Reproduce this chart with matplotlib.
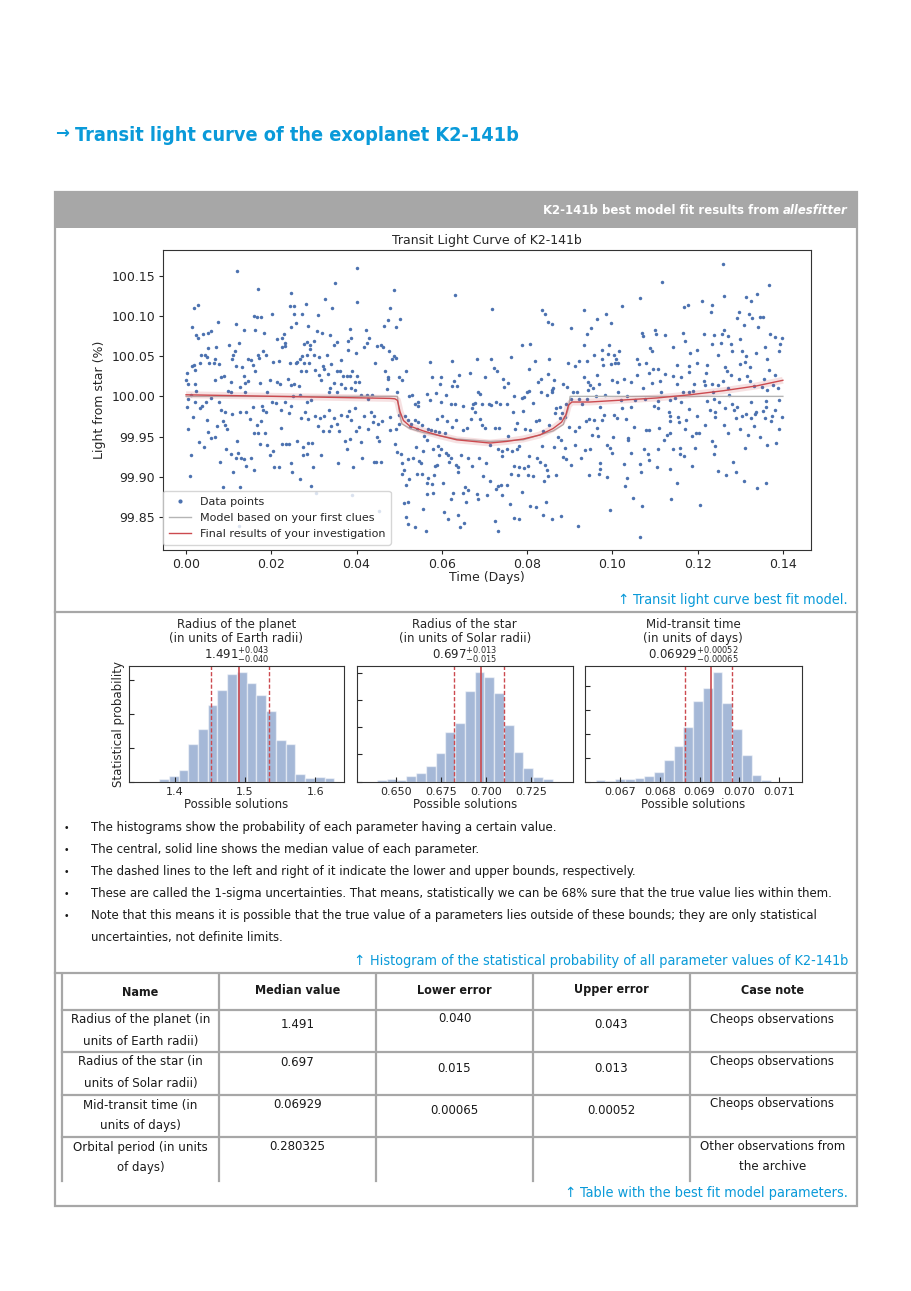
import matplotlib
matplotlib.use('Agg')
import matplotlib.pyplot as plt
from matplotlib import font_manager as fm
from matplotlib.font_manager import FontProperties
from matplotlib.patches import Rectangle
from matplotlib.ticker import MultipleLocator, FormatStrFormatter

plt.rcParams['font.family'] = ['DejaVu Sans']
plt.rcParams['mathtext.fontset'] = 'dejavusans'
plt.rcParams['text.color'] = '#262626'
plt.rcParams['axes.labelcolor'] = '#262626'

BLUE = '#0a9ad9'
GREY = '#a7a7a7'
DOT = '#4c72b0'
RED = '#cc4a4f'
INK = '#1a1a1a'

# ---------------- light curve data (time in days, flux in %) ----------------
t_before = [
    0.01204, 0.04018, 0.03502, 0.01696, 0.02462, 0.03268, 0.04018, 0.00281, 0.00180, 0.02806,
    0.02447, 0.02533, 0.03432, 0.02009, 0.01595, 0.01673, 0.01767, 0.02533, 0.02713, 0.03096,
    0.00758, 0.01173, 0.00141, 0.02455, 0.02572, 0.02853, 0.03064, 0.03189, 0.03369, 0.03854,
    0.04229, 0.04651, 0.04729, 0.00586, 0.00524, 0.00391, 0.00227, 0.00274, 0.01352, 0.01626,
    0.01837, 0.02298, 0.02251, 0.02142, 0.02322, 0.02314, 0.02244, 0.02775, 0.02845, 0.02900,
    0.03002, 0.02916, 0.03541, 0.03463, 0.03799, 0.03869, 0.04299, 0.04237, 0.04487, 0.04565,
    0.04612, 0.01235, 0.01001, 0.00696, 0.00524, 0.01141, 0.01102, 0.01798, 0.01876, 0.01688,
    0.01704, 0.01517, 0.02048, 0.02181, 0.02580, 0.02728, 0.02681, 0.02830, 0.03002, 0.03111,
    0.03307, 0.03643, 0.03791, 0.03987, 0.04174, 0.04753, 0.00360, 0.00453, 0.00492, 0.00680,
    0.00649, 0.00547, 0.00766, 0.00149, 0.00195, 0.00219, 0.00336, 0.01079, 0.01173, 0.01305,
    0.01579, 0.01462, 0.01618, 0.02431, 0.02603, 0.02775, 0.02885, 0.02806, 0.02689, 0.03025,
    0.03221, 0.03244, 0.03400, 0.03533, 0.03619, 0.03690, 0.03768, 0.03838, 0.03893, 0.04018,
    0.04432, 0.04667, 0.04737, 0.04745, 0.00016, 0.00008, 0.00055, 0.00211, 0.00242, 0.00672,
    0.00829, 0.00899, 0.01047, 0.01352, 0.01391, 0.01454, 0.01274, 0.00977, 0.01055, 0.01384,
    0.01728, 0.01970, 0.02126, 0.02204, 0.02384, 0.02455, 0.02525, 0.02650, 0.03127, 0.03158,
    0.03338, 0.03463, 0.03369, 0.03346, 0.03533, 0.03627, 0.03737, 0.03862, 0.03971, 0.04049,
    0.03955, 0.04112, 0.04245, 0.04268, 0.04354, 0.04714, 0.00117, 0.00039, 0.00031, 0.00164,
    0.00203, 0.00321, 0.00383, 0.00461, 0.00578, 0.00774, 0.00821, 0.00915, 0.00860, 0.00915,
    0.00969, 0.01071, 0.01274, 0.01407, 0.01509, 0.01563, 0.01782, 0.01814, 0.01876, 0.01900,
    0.02009, 0.02103, 0.02236, 0.02329, 0.02423, 0.02455, 0.02517, 0.02666, 0.02838, 0.02939,
    0.02791, 0.02697, 0.02869, 0.03025, 0.03135, 0.03236, 0.03361, 0.03393, 0.03471, 0.03533,
    0.03635, 0.03776, 0.03830, 0.03877, 0.03955, 0.04174, 0.04331, 0.04417, 0.04393, 0.04604,
    0.00492, 0.00516, 0.00727, 0.00047, 0.00313, 0.00430, 0.00578, 0.00680, 0.00797, 0.00946,
    0.01055, 0.01102, 0.01165, 0.01212, 0.01196, 0.01282, 0.01360, 0.01407, 0.01524, 0.01587,
    0.01602, 0.01657, 0.01688, 0.01767, 0.01845, 0.01735, 0.01900, 0.01970, 0.02048, 0.02056,
    0.02189, 0.02228, 0.02244, 0.02353, 0.02423, 0.02455, 0.02486, 0.02603, 0.02673, 0.02736,
    0.02752, 0.02830, 0.02853, 0.02947, 0.02939, 0.02986, 0.03103, 0.03158, 0.03205, 0.03354,
    0.03557, 0.03588, 0.03721, 0.03768, 0.03846, 0.03909, 0.03995, 0.04057, 0.04112, 0.04135,
    0.04260, 0.04401, 0.04464, 0.04573, 0.04471, 0.04526, 0.00117, 0.00102, 0.00860, 0.01266,
    0.04510, 0.03056, 0.03893, 0.04526, 0.01243,
]
f_before = [
    100.156, 100.159, 100.141, 100.134, 100.128, 100.121, 100.117, 100.113, 100.110, 100.115,
    100.112, 100.112, 100.110, 100.103, 100.100, 100.099, 100.099, 100.102, 100.102, 100.101,
    100.092, 100.090, 100.086, 100.086, 100.091, 100.087, 100.081, 100.079, 100.076, 100.084,
    100.082, 100.087, 100.095, 100.081, 100.079, 100.077, 100.076, 100.072, 100.082, 100.082,
    100.079, 100.078, 100.073, 100.071, 100.066, 100.063, 100.061, 100.065, 100.067, 100.064,
    100.069, 100.059, 100.067, 100.064, 100.069, 100.073, 100.073, 100.066, 100.063, 100.064,
    100.061, 100.066, 100.064, 100.062, 100.060, 100.056, 100.052, 100.056, 100.051, 100.051,
    100.048, 100.045, 100.043, 100.044, 100.042, 100.050, 100.047, 100.051, 100.052, 100.049,
    100.051, 100.045, 100.058, 100.054, 100.061, 100.056, 100.051, 100.051, 100.049, 100.046,
    100.042, 100.042, 100.040, 100.038, 100.039, 100.033, 100.041, 100.046, 100.038, 100.037,
    100.039, 100.046, 100.031, 100.041, 100.043, 100.041, 100.041, 100.032, 100.032, 100.033,
    100.038, 100.034, 100.040, 100.032, 100.032, 100.025, 100.025, 100.025, 100.032, 100.025,
    100.042, 100.032, 100.024, 100.022, 100.029, 100.020, 100.016, 100.015, 100.007, 100.020,
    100.024, 100.025, 100.018, 100.025, 100.017, 100.019, 100.012, 100.007, 100.005, 100.005,
    100.017, 100.020, 100.018, 100.015, 100.022, 100.014, 100.015, 100.013, 100.027, 100.020,
    100.028, 100.017, 100.011, 100.005, 100.006, 100.015, 100.010, 100.010, 100.018, 100.018,
    100.008, 100.002, 100.002, 99.997, 100.002, 100.009, 100.002, 99.997, 99.987, 99.974,
    99.993, 99.985, 99.988, 99.993, 99.998, 99.993, 99.983, 99.981, 99.970, 99.964,
    99.960, 99.978, 99.981, 99.981, 99.972, 99.987, 99.988, 99.983, 99.980, 100.006,
    99.993, 99.992, 99.983, 99.993, 99.979, 99.988, 100.001, 100.002, 99.993, 99.995,
    99.981, 99.973, 99.972, 99.975, 99.973, 99.975, 99.983, 99.963, 99.973, 99.966,
    99.977, 99.976, 99.982, 99.971, 99.986, 99.976, 99.980, 99.976, 99.968, 99.970,
    99.971, 99.956, 99.963, 99.959, 99.943, 99.937, 99.948, 99.950, 99.919, 99.935,
    99.928, 99.906, 99.924, 99.930, 99.945, 99.924, 99.922, 99.914, 99.924, 99.908,
    99.954, 99.964, 99.955, 99.970, 99.954, 99.941, 99.940, 99.927, 99.932, 99.912,
    99.912, 99.961, 99.941, 99.941, 99.941, 99.917, 99.906, 99.944, 99.897, 99.937,
    99.927, 99.928, 99.942, 99.942, 99.888, 99.912, 99.963, 99.927, 99.957, 99.957,
    99.917, 99.957, 99.945, 99.934, 99.947, 99.912, 99.957, 99.962, 99.943, 99.924,
    99.959, 99.919, 99.919, 99.918, 99.950, 99.944, 99.927, 99.901, 99.887, 99.887,
    99.966, 99.880, 99.877, 99.858, 99.839,
]
t_transit = [
    0.04886, 0.06308, 0.07176, 0.08356, 0.08427, 0.09334, 0.08497, 0.08575, 0.09021, 0.09396,
    0.04784, 0.05026, 0.04925, 0.07880, 0.08075, 0.09341, 0.04886, 0.04925, 0.04831, 0.05722,
    0.06246, 0.06832, 0.07145, 0.07215, 0.07285, 0.07629, 0.08184, 0.08505, 0.08950, 0.09130,
    0.09216, 0.09396, 0.05159, 0.04995, 0.05073, 0.05761, 0.05972, 0.05957, 0.06277, 0.06238,
    0.06347, 0.06410, 0.06660, 0.07004, 0.07442, 0.07551, 0.07457, 0.08052, 0.08317, 0.08247,
    0.08497, 0.08614, 0.08630, 0.08591, 0.08849, 0.08927, 0.09326, 0.09427, 0.09435, 0.09076,
    0.09162, 0.04956, 0.05300, 0.05237, 0.05433, 0.05370, 0.05448, 0.05652, 0.05730, 0.05855,
    0.05972, 0.06097, 0.06215, 0.06316, 0.06496, 0.06699, 0.06723, 0.06770, 0.06856, 0.06895,
    0.06942, 0.07098, 0.07160, 0.07270, 0.07356, 0.07520, 0.07692, 0.07880, 0.07926, 0.07997,
    0.08036, 0.08145, 0.08325, 0.08458, 0.08583, 0.08669, 0.08779, 0.08919, 0.09029, 0.09208,
    0.09279, 0.09412, 0.04784, 0.05003, 0.05128, 0.04987, 0.05206, 0.05284, 0.05378, 0.05441,
    0.05409, 0.05253, 0.04925, 0.04784, 0.05534, 0.05675, 0.05753, 0.05839, 0.05644, 0.05581,
    0.05878, 0.05941, 0.06074, 0.06011, 0.06129, 0.06246, 0.06324, 0.06504, 0.06582, 0.06691,
    0.06777, 0.06895, 0.06934, 0.07020, 0.07246, 0.07332, 0.07543, 0.07661, 0.07723, 0.07755,
    0.07911, 0.07942, 0.08067, 0.08208, 0.08270, 0.08380, 0.08505, 0.08661, 0.08771, 0.08810,
    0.08896, 0.08990, 0.09130, 0.09224, 0.09380, 0.09451, 0.04893, 0.04956, 0.05034, 0.05206,
    0.05065, 0.05104, 0.05065, 0.05331, 0.05386, 0.05472, 0.05511, 0.05566, 0.05800, 0.05910,
    0.05980, 0.05941, 0.05886, 0.05847, 0.06105, 0.06144, 0.06207, 0.06175, 0.06332, 0.06386,
    0.06371, 0.06457, 0.06621, 0.06715, 0.06863, 0.07035, 0.07137, 0.07325, 0.07411, 0.07419,
    0.07528, 0.07645, 0.07770, 0.07817, 0.07684, 0.07809, 0.08020, 0.08052, 0.08223, 0.08310,
    0.08356, 0.08427, 0.08630, 0.08732, 0.08794, 0.08849, 0.08911, 0.08896, 0.09021, 0.09115,
    0.09271, 0.09365, 0.09451, 0.05151, 0.05237, 0.05409, 0.05534, 0.05683, 0.05660, 0.05769,
    0.05824, 0.06035, 0.06254, 0.06488, 0.06543, 0.06605, 0.06824, 0.06840, 0.06957, 0.07137,
    0.07270, 0.07317, 0.07395, 0.07520, 0.07411, 0.07614, 0.07778, 0.07872, 0.07934, 0.08020,
    0.08145, 0.08458, 0.08395, 0.08497, 0.08669, 0.05104, 0.05206, 0.05660, 0.05800, 0.06215,
    0.06559, 0.07067, 0.07590, 0.07684, 0.07801, 0.08067, 0.08200, 0.08435, 0.08364, 0.08583,
    0.08802, 0.09193, 0.05159, 0.05206, 0.05378, 0.05620, 0.05558, 0.06043, 0.06144, 0.06371,
    0.06433, 0.06519, 0.07254, 0.07317,
]
f_transit = [
    100.132, 100.126, 100.109, 100.108, 100.103, 100.107, 100.092, 100.090, 100.085, 100.078,
    100.110, 100.096, 100.086, 100.064, 100.065, 100.064, 100.050, 100.048, 100.046, 100.043,
    100.044, 100.046, 100.047, 100.035, 100.032, 100.049, 100.044, 100.047, 100.042, 100.038,
    100.044, 100.044, 100.032, 100.024, 100.020, 100.024, 100.024, 100.016, 100.019, 100.013,
    100.013, 100.026, 100.029, 100.024, 100.021, 100.017, 100.012, 100.034, 100.022, 100.018,
    100.028, 100.011, 100.020, 100.008, 100.016, 100.012, 100.024, 100.018, 100.008, 100.005,
    100.006, 100.005, 100.002, 100.000, 99.993, 99.991, 99.988, 100.003, 99.996, 100.004,
    99.993, 100.002, 99.990, 99.991, 99.988, 99.985, 99.990, 99.992, 100.005, 100.003,
    99.991, 99.990, 99.989, 99.993, 99.991, 99.991, 100.000, 99.998, 99.999, 100.005,
    100.007, 99.992, 100.005, 100.002, 100.006, 99.985, 99.987, 99.990, 99.997, 99.997,
    99.990, 99.997, 99.974, 99.977, 99.976, 99.966, 99.971, 99.966, 99.971, 99.968,
    99.959, 99.962, 99.959, 99.958, 99.965, 99.960, 99.958, 99.957, 99.946, 99.951,
    99.972, 99.956, 99.954, 99.976, 99.969, 99.962, 99.971, 99.958, 99.961, 99.972,
    99.980, 99.972, 99.964, 99.961, 99.961, 99.961, 99.951, 99.981, 99.959, 99.967,
    99.982, 99.960, 99.958, 99.969, 99.971, 99.957, 99.964, 99.979, 99.973, 99.979,
    99.974, 99.962, 99.957, 99.962, 99.970, 99.972, 99.941, 99.931, 99.928, 99.922,
    99.917, 99.909, 99.904, 99.924, 99.937, 99.920, 99.917, 99.932, 99.934, 99.938,
    99.934, 99.927, 99.915, 99.913, 99.929, 99.927, 99.924, 99.919, 99.915, 99.912,
    99.906, 99.927, 99.924, 99.913, 99.923, 99.917, 99.939, 99.935, 99.932, 99.926,
    99.935, 99.932, 99.934, 99.938, 99.913, 99.912, 99.913, 99.926, 99.923, 99.918,
    99.938, 99.915, 99.937, 99.950, 99.946, 99.925, 99.922, 99.936, 99.915, 99.940,
    99.924, 99.933, 99.902, 99.890, 99.897, 99.904, 99.904, 99.898, 99.892, 99.891,
    99.902, 99.892, 99.880, 99.880, 99.887, 99.883, 99.879, 99.873, 99.901, 99.895,
    99.885, 99.888, 99.890, 99.890, 99.877, 99.904, 99.902, 99.881, 99.911, 99.902,
    99.901, 99.909, 99.895, 99.901, 99.902, 99.868, 99.869, 99.879, 99.880, 99.872,
    99.869, 99.877, 99.866, 99.849, 99.847, 99.864, 99.863, 99.869, 99.853, 99.847,
    99.851, 99.839, 99.850, 99.841, 99.838, 99.833, 99.860, 99.856, 99.848, 99.853,
    99.837, 99.843, 99.845, 99.833,
]
t_after = [
    0.12585, 0.11170, 0.13672, 0.10647, 0.12616, 0.13132, 0.13383, 0.13250, 0.12093, 0.10224,
    0.11686, 0.11764, 0.12343, 0.12304, 0.09646, 0.09849, 0.09959, 0.09505, 0.12968, 0.12921,
    0.13078, 0.13211, 0.13281, 0.13461, 0.13531, 0.12624, 0.12570, 0.12718, 0.12374, 0.10701,
    0.10725, 0.10998, 0.11030, 0.11241, 0.11655, 0.12140, 0.13414, 0.13695, 0.13813, 0.13984,
    0.12984, 0.11710, 0.11413, 0.12343, 0.12538, 0.12484, 0.12773, 0.12804, 0.13031, 0.13132,
    0.13359, 0.13625, 0.13570, 0.13922, 0.13914, 0.10889, 0.10920, 0.11827, 0.11991, 0.09763,
    0.09920, 0.09904, 0.09560, 0.10037, 0.10076, 0.10154, 0.10138, 0.10052, 0.09966, 0.09763,
    0.09779, 0.10584, 0.10615, 0.10787, 0.11514, 0.11796, 0.11983, 0.12226, 0.12640, 0.12687,
    0.12992, 0.13117, 0.13226, 0.13664, 0.13805, 0.09638, 0.09474, 0.09544, 0.09685, 0.09818,
    0.09998, 0.10099, 0.10264, 0.10443, 0.10584, 0.10709, 0.10858, 0.10920, 0.10959, 0.11061,
    0.11123, 0.11241, 0.11413, 0.11514, 0.11616, 0.11788, 0.11913, 0.12155, 0.12202, 0.12171,
    0.12343, 0.12366, 0.12484, 0.12593, 0.12718, 0.12788, 0.12968, 0.13156, 0.13218, 0.13328,
    0.13562, 0.13500, 0.13625, 0.13758, 0.13875, 0.09607, 0.10123, 0.10201, 0.10350, 0.10529,
    0.10435, 0.10772, 0.10975, 0.11061, 0.11139, 0.11342, 0.11460, 0.11616, 0.11663, 0.11803,
    0.11897, 0.12226, 0.12390, 0.12491, 0.12742, 0.12796, 0.12921, 0.13242, 0.13359, 0.13601,
    0.13601, 0.13906, 0.09709, 0.09810, 0.10224, 0.10037, 0.10115, 0.10318, 0.11069, 0.11319,
    0.11350, 0.11350, 0.11538, 0.11718, 0.11796, 0.11975, 0.12280, 0.12405, 0.12413, 0.12640,
    0.12859, 0.12906, 0.13039, 0.13140, 0.13257, 0.13336, 0.13523, 0.13586, 0.13742, 0.13820,
    0.13969, 0.09568, 0.09748, 0.09630, 0.09521, 0.09669, 0.10021, 0.10373, 0.10357, 0.10506,
    0.10787, 0.10850, 0.11100, 0.11272, 0.11350, 0.11209, 0.11553, 0.11694, 0.11858, 0.11952,
    0.12038, 0.12163, 0.12343, 0.12413, 0.12616, 0.12702, 0.12984, 0.13101, 0.13179, 0.13312,
    0.13453, 0.13625, 0.13726, 0.13844, 0.13914, 0.09474, 0.09880, 0.09943, 0.09990, 0.10443,
    0.10740, 0.10834, 0.10858, 0.11076, 0.11428, 0.11585, 0.11585, 0.11671, 0.11929, 0.12382,
    0.12828, 0.09709, 0.09716, 0.09677, 0.09880, 0.10271, 0.10334, 0.10647, 0.10678, 0.11037,
    0.11350, 0.11858, 0.12484, 0.12656, 0.12898, 0.13078, 0.10303, 0.10475, 0.11522, 0.11381,
    0.13383, 0.13594, 0.09951, 0.10686, 0.12061, 0.10647,
]
f_after = [
    100.165, 100.142, 100.138, 100.122, 100.125, 100.123, 100.127, 100.118, 100.119, 100.112,
    100.111, 100.113, 100.113, 100.105, 100.096, 100.102, 100.091, 100.085, 100.105, 100.098,
    100.089, 100.103, 100.098, 100.099, 100.099, 100.082, 100.078, 100.075, 100.076, 100.079,
    100.075, 100.082, 100.078, 100.076, 100.079, 100.077, 100.086, 100.078, 100.074, 100.072,
    100.071, 100.069, 100.062, 100.065, 100.066, 100.051, 100.065, 100.056, 100.057, 100.050,
    100.054, 100.047, 100.061, 100.065, 100.056, 100.060, 100.057, 100.054, 100.058, 100.058,
    100.064, 100.053, 100.051, 100.051, 100.047, 100.057, 100.042, 100.042, 100.040, 100.046,
    100.039, 100.046, 100.040, 100.041, 100.039, 100.038, 100.041, 100.039, 100.037, 100.032,
    100.040, 100.043, 100.036, 100.033, 100.026, 100.027, 100.014, 100.011, 100.015, 100.002,
    100.020, 100.018, 100.021, 100.018, 100.027, 100.011, 100.029, 100.017, 100.034, 100.034,
    100.019, 100.028, 100.025, 100.015, 100.024, 100.030, 100.016, 100.019, 100.029, 100.014,
    100.016, 100.005, 100.014, 100.019, 100.011, 100.026, 100.022, 100.025, 100.019, 100.013,
    100.022, 100.012, 100.008, 100.014, 100.010, 100.000, 100.006, 99.995, 100.000, 99.995,
    99.987, 99.997, 99.988, 99.994, 100.006, 99.995, 99.998, 99.993, 100.006, 100.006,
    100.007, 99.994, 99.997, 99.993, 100.002, 99.991, 99.987, 99.993, 99.981, 99.994,
    99.987, 99.995, 99.987, 99.977, 99.986, 99.977, 99.973, 99.972, 99.986, 99.980,
    99.976, 99.970, 99.974, 99.971, 99.984, 99.975, 99.983, 99.981, 99.974, 99.985,
    99.983, 99.973, 99.975, 99.978, 99.973, 99.978, 99.982, 99.973, 99.976, 99.983,
    99.974, 99.971, 99.971, 99.961, 99.952, 99.951, 99.950, 99.948, 99.946, 99.962,
    99.958, 99.958, 99.961, 99.952, 99.955, 99.946, 99.968, 99.960, 99.951, 99.954,
    99.955, 99.965, 99.944, 99.938, 99.965, 99.954, 99.959, 99.936, 99.952, 99.963,
    99.950, 99.939, 99.969, 99.942, 99.959, 99.934, 99.940, 99.936, 99.929, 99.930,
    99.935, 99.928, 99.921, 99.935, 99.934, 99.936, 99.928, 99.926, 99.936, 99.928,
    99.919, 99.917, 99.910, 99.904, 99.900, 99.916, 99.899, 99.916, 99.906, 99.912,
    99.910, 99.913, 99.907, 99.902, 99.906, 99.895, 99.888, 99.874, 99.892, 99.873,
    99.886, 99.892, 99.859, 99.864, 99.865, 99.825,
]

# models
guess_t = [0.0, 0.0496, 0.0499, 0.0506, 0.0525, 0.0557, 0.0635, 0.0713, 0.0791, 0.0861,
           0.0885, 0.0897, 0.0901, 0.1400]
guess_f = [100.000, 100.000, 99.985, 99.966, 99.960, 99.955, 99.947, 99.944, 99.946, 99.957,
           99.965, 99.985, 100.000, 100.000]
fit_t = [0.0, 0.0478, 0.0490, 0.0496, 0.0502, 0.0510, 0.0525, 0.0557, 0.0596, 0.0635,
         0.0674, 0.0713, 0.0752, 0.0791, 0.0830, 0.0861, 0.0881, 0.0891, 0.0897, 0.0905,
         0.0947, 0.1104, 0.1182, 0.1260, 0.1338, 0.1400]
fit_f = [100.002, 99.9975, 99.997, 99.995, 99.981, 99.970, 99.963, 99.957, 99.951, 99.946,
         99.944, 99.942, 99.944, 99.947, 99.952, 99.960, 99.968, 99.977, 99.989, 99.993,
         99.993, 99.998, 100.002, 100.007, 100.013, 100.020]

lc_xticks = [0.00, 0.02, 0.04, 0.06, 0.08, 0.10, 0.12, 0.14]
lc_yticks = [99.85, 99.90, 99.95, 100.00, 100.05, 100.10, 100.15]

# ---------------- posterior histograms ----------------
planet_counts = [8, 18, 34, 112, 158, 230, 274, 324, 328, 295, 259, 213, 124, 114, 24, 11, 13, 10]
star_counts = [6, 7, 6, 16, 25, 48, 86, 150, 176, 272, 328, 315, 266, 170, 90, 42, 14, 7]
time_counts = [5, 3, 7, 8, 11, 17, 29, 66, 106, 164, 242, 282, 328, 236, 158, 81, 20, 6]

param_names = ['Radius of the planet', 'Radius of the star', 'Mid-transit time']
param_units = ['(in units of Earth radii)', '(in units of Solar radii)', '(in units of days)']
param_median = ['1.491', '0.697', '0.06929']
param_lower = ['0.040', '0.015', '0.00065']
param_upper = ['0.043', '0.013', '0.00052']
bin_start = [1.3774, 0.6393, 0.066381]
bin_width = [0.01387, 0.00543, 0.0002456]
hist_xlim = [(1.3346, 1.6409), (0.6280, 0.7484), (0.066111, 0.071575)]
hist_xticks = [[1.4, 1.5, 1.6], [0.650, 0.675, 0.700, 0.725], [0.067, 0.068, 0.069, 0.070, 0.071]]
hist_fmt = ['%.1f', '%.3f', '%.3f']
hist_ytick_step = [101.5, 81.7, 71.5]

# ---------------- table ----------------
table_header = ['Name', 'Median value', 'Lower error', 'Upper error', 'Case note']
table_names = ['Radius of the planet (in\nunits of Earth radii)',
               'Radius of the star (in\nunits of Solar radii)',
               'Mid-transit time (in\nunits of days)',
               'Orbital period (in units\nof days)']
table_median = ['1.491', '0.697', '0.06929', '0.280325']
table_lower = ['0.040', '0.015', '0.00065', '']
table_upper = ['0.043', '0.013', '0.00052', '']
table_note = ['Cheops observations', 'Cheops observations', 'Cheops observations',
              'Other observations from\nthe archive']

bullets = [
    'The histograms show the probability of each parameter having a certain value.',
    'The central, solid line shows the median value of each parameter.',
    'The dashed lines to the left and right of it indicate the lower and upper bounds, respectively.',
    'These are called the 1-sigma uncertainties. That means, statistically we can be 68% sure that the true value lies within them.',
    'Note that this means it is possible that the true value of a parameters lies outside of these bounds; they are only statistical\nuncertainties, not definite limits.',
]


# ---------------- fonts for the page text (a condensed face if one is installed) ----------------
def _weight(w):
    if isinstance(w, (int, float)):
        return int(w)
    return {'bold': 700, 'semibold': 600, 'demibold': 600, 'medium': 500, 'normal': 400,
            'regular': 400, 'book': 400, 'light': 300}.get(str(w).lower(), 400)


def _narrow(s):
    if isinstance(s, (int, float)):
        return s < 500
    return 'condensed' in str(s).lower() or 'narrow' in str(s).lower()


def find_condensed():
    for fam in ['Noto Sans', 'DejaVu Sans', 'Liberation Sans Narrow', 'Open Sans', 'Roboto']:
        found = {}
        for f in fm.fontManager.ttflist:
            if f.name != fam:
                continue
            if not (_narrow(f.stretch) or fam == 'Liberation Sans Narrow'):
                continue
            w = _weight(f.weight)
            italic = f.style != 'normal'
            if 380 <= w <= 420 and not italic:
                found.setdefault('regular', f.fname)
            elif 650 <= w <= 750 and not italic:
                found.setdefault('bold', f.fname)
            elif 650 <= w <= 750 and italic:
                found.setdefault('bolditalic', f.fname)
        if 'regular' in found and 'bold' in found:
            found.setdefault('bolditalic', found['bold'])
            return {k: FontProperties(fname=v) for k, v in found.items()}
    return {'regular': FontProperties(family='DejaVu Sans'),
            'bold': FontProperties(family='DejaVu Sans', weight='bold'),
            'bolditalic': FontProperties(family='DejaVu Sans', weight='bold', style='italic')}


FONTS = find_condensed()


def fp(kind, size):
    p = FONTS[kind].copy()
    p.set_size(size)
    return p


# ---------------- figure ----------------
W, H = 912, 1291
fig = plt.figure(figsize=(W / 100, H / 100), dpi=100)
renderer = fig.canvas.get_renderer()


def rect(l, t, r, b):
    return [l / W, 1 - b / H, (r - l) / W, (b - t) / H]


bg = fig.add_axes([0, 0, 1, 1], zorder=-1)
bg.set_xlim(0, W)
bg.set_ylim(H, 0)
bg.axis('off')


def text_width(t):
    bb = t.get_window_extent(renderer=renderer)
    x0 = bg.transData.inverted().transform((bb.x0, bb.y0))[0]
    x1 = bg.transData.inverted().transform((bb.x1, bb.y0))[0]
    return x0, x1


def fit_size(text, width_px, kind='regular'):
    # font size that makes the text as wide as in the page layout
    t = bg.text(0, 0, text, fontproperties=fp(kind, 10))
    x0, x1 = text_width(t)
    t.remove()
    return 10 * width_px / (x1 - x0)


def caption(y, s, size):
    t = bg.text(848, y, s, color=BLUE, fontproperties=fp('regular', size), ha='right', va='center')
    x0, _ = text_width(t)
    bg.text(x0 - 5, y, '\u2191', color=BLUE, fontsize=size * 0.95, family='DejaVu Sans',
            ha='right', va='center')


BODY = fit_size(bullets[3], 738)
TITLE = fit_size('Transit light curve of the exoplanet K2-141b', 441, 'bold')
HEAD = fit_size('K2-141b best model fit results from', 235, 'bold')
CAP = fit_size('Histogram of the statistical probability of all parameter values of K2-141b', 477)
TBL = fit_size('Radius of the planet (in', 139)
TBLB = fit_size('Median value', 84, 'bold')

# page frame
bg.add_patch(Rectangle((55, 192), 802, 36, facecolor=GREY, edgecolor='none'))
bg.add_patch(Rectangle((55, 192), 802, 1014, facecolor='none', edgecolor=GREY, lw=1.6))
bg.plot([55, 857], [612, 612], color=GREY, lw=1.6)
bg.plot([55, 857], [973, 973], color=GREY, lw=1.6)

bg.text(55, 138, '\u2192', color=BLUE, fontsize=12, fontweight='bold', family='DejaVu Sans',
        va='baseline')
bg.text(75, 141, 'Transit light curve of the exoplanet K2-141b', color=BLUE,
        fontproperties=fp('bold', TITLE), va='baseline')

t_it = bg.text(848, 214, 'allesfitter', color='white', fontproperties=fp('bolditalic', HEAD),
               ha='right', va='baseline')
x_it, _ = text_width(t_it)
bg.text(x_it - 4, 214, 'K2-141b best model fit results from', color='white',
        fontproperties=fp('bold', HEAD), ha='right', va='baseline')

# ---- light curve ----
ax = fig.add_axes(rect(163, 250, 811, 550))
t_all = t_before + t_transit + t_after
f_all = f_before + f_transit + f_after
ax.plot(t_all, f_all, 'o', ms=2.5, mew=0, color=DOT, label='Data points', zorder=1)
ax.plot(guess_t, guess_f, color='#b5b5b5', lw=1.0, label='Model based on your first clues', zorder=2)
ax.plot(fit_t, fit_f, color=RED, lw=5, alpha=0.16, zorder=3, solid_capstyle='butt')
ax.plot(fit_t, fit_f, color=RED, lw=1.0, label='Final results of your investigation', zorder=4)
ax.set_xlim(-0.0054, 0.1466)
ax.set_ylim(99.809, 100.182)
ax.set_xticks(lc_xticks)
ax.set_yticks(lc_yticks)
ax.xaxis.set_major_formatter(FormatStrFormatter('%.2f'))
ax.yaxis.set_major_formatter(FormatStrFormatter('%.2f'))
ax.tick_params(direction='out', length=3, width=0.8, pad=2.5, labelsize=9, colors='#262626')
for s in ax.spines.values():
    s.set_color('#333333')
    s.set_linewidth(0.8)
ax.set_title('Transit Light Curve of K2-141b', fontsize=9, pad=4)
ax.set_xlabel('Time (Days)', fontsize=9, labelpad=0)
ax.set_ylabel('Light from star (%)', fontsize=9, labelpad=4)
leg = ax.legend(loc='lower left', bbox_to_anchor=(0, 0.018), borderaxespad=0, fontsize=8,
                framealpha=0.8, edgecolor='#cccccc', markerscale=1.2, handletextpad=0.8,
                borderpad=0.5, labelspacing=0.55)

caption(600, 'Transit light curve best fit model.', CAP)

# ---- histograms ----
hist_boxes = [(129, 344), (356.7, 573), (585, 801.7)]
hist_counts = [planet_counts, star_counts, time_counts]
for i, (l, r) in enumerate(hist_boxes):
    hx = fig.add_axes(rect(l, 665.7, r, 781.7))
    counts = hist_counts[i]
    lefts = [bin_start[i] + k * bin_width[i] for k in range(len(counts))]
    hx.bar(lefts, counts, width=bin_width[i], align='edge', color=DOT, alpha=0.5,
           edgecolor='white', linewidth=1.0)
    med = float(param_median[i])
    lo = float(param_lower[i])
    hi = float(param_upper[i])
    hx.axvline(med, color=RED, lw=1.2)
    hx.axvline(med - lo, color=RED, lw=1.0, ls=(0, (3, 1.5)))
    hx.axvline(med + hi, color=RED, lw=1.0, ls=(0, (3, 1.5)))
    hx.set_xlim(*hist_xlim[i])
    hx.set_ylim(0, 348)
    hx.set_xticks(hist_xticks[i])
    hx.xaxis.set_major_formatter(FormatStrFormatter(hist_fmt[i]))
    hx.yaxis.set_major_locator(MultipleLocator(hist_ytick_step[i]))
    hx.tick_params(direction='in', length=3.5, width=0.8, labelsize=8, colors='#262626',
                   labelleft=False)
    for s in hx.spines.values():
        s.set_color('#333333')
        s.set_linewidth(0.8)
    title = (param_names[i] + '\n' + param_units[i] + '\n$' + param_median[i]
             + '^{+' + param_upper[i] + '}_{-' + param_lower[i] + '}$')
    hx.set_title(title, fontsize=8.5, pad=-1, linespacing=1.05)
    hx.set_xlabel('Possible solutions', fontsize=8.5, labelpad=1)
    if i == 0:
        hx.set_ylabel('Statistical probability', fontsize=8.5, labelpad=3)

# ---- bullet list ----
y = 828
for b in bullets:
    bg.text(66, y, '\u2022', fontproperties=fp('regular', BODY * 0.8), va='center', ha='center',
            color=INK)
    for line in b.split('\n'):
        bg.text(91, y, line, fontproperties=fp('regular', BODY), va='center', color=INK)
        y += 22

caption(961, 'Histogram of the statistical probability of all parameter values of K2-141b', CAP)

# ---- table ----
col_edges = [62, 219, 376, 533, 690, 855]
row_edges = [975, 1010, 1052, 1095, 1137, 1181]
for xe in col_edges[1:-1]:
    bg.plot([xe, xe], [row_edges[0], row_edges[-1]], color=GREY, lw=1.6)
for ye in row_edges[1:-1]:
    bg.plot([col_edges[0], col_edges[-1]], [ye, ye], color=GREY, lw=1.6)
bg.plot([col_edges[0], col_edges[0]], [row_edges[0], row_edges[-1]], color=GREY, lw=1.6)

col_mid = [(col_edges[k] + col_edges[k + 1]) / 2 for k in range(5)]
header_y = [993, 990, 990, 990, 990]
for k, h in enumerate(table_header):
    bg.text(col_mid[k], header_y[k], h, fontproperties=fp('bold', TBLB), ha='center',
            va='center', color=INK)

row_top = [1020, 1062, 1105, 1147]
lower_y = [1019, 1068, 1110, 1147]
upper_y = [1024, 1068, 1110, 1147]
median_y = [1024, 1062, 1105, 1147]
for r in range(4):
    kw = dict(fontproperties=fp('regular', TBL), ha='center', va='center', color=INK)
    for j, line in enumerate(table_names[r].split('\n')):
        bg.text(col_mid[0], row_top[r] + 21 * j, line, **kw)
    bg.text(col_mid[1], median_y[r], table_median[r], **kw)
    bg.text(col_mid[2], lower_y[r], table_lower[r], **kw)
    bg.text(col_mid[3], upper_y[r], table_upper[r], **kw)
    for j, line in enumerate(table_note[r].split('\n')):
        bg.text(col_mid[4], row_top[r] - 1 + 21 * j, line, **kw)

caption(1193, 'Table with the best fit model parameters.', CAP)

fig.savefig('out.png', dpi=100)
